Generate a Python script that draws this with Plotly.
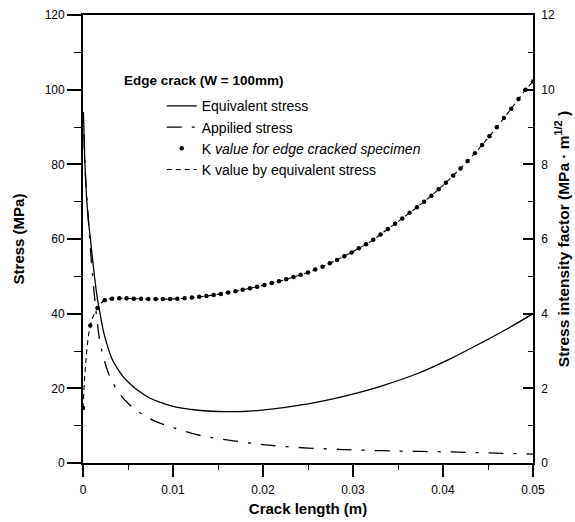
import plotly.graph_objects as go

# Equivalent stress (MPa) vs crack length (m)
a_eq = [0.00004, 0.0001, 0.0002, 0.0004, 0.0006, 0.0008, 0.001, 0.0013, 0.0016, 0.0019,
        0.0023, 0.0027, 0.0032, 0.0037, 0.0045, 0.0052, 0.006, 0.0074, 0.0085, 0.0097,
        0.011, 0.0125, 0.015, 0.0178, 0.0204, 0.023, 0.0256, 0.028, 0.0305, 0.0334,
        0.0371, 0.0408, 0.0445, 0.0474, 0.05]
s_eq = [94, 90, 81, 71, 65, 60.5, 56, 49.5, 44, 40,
        35, 31.5, 28, 25.8, 23, 21.3, 19.6, 17.4, 16.3, 15.4,
        14.7, 14.2, 13.8, 13.8, 14.3, 15.1, 16.1, 17.3, 18.8, 20.8,
        23.9, 27.9, 32.5, 36.3, 40.0]

# Applied stress (MPa)
a_app = [0.0001, 0.0003, 0.0006, 0.001, 0.0015, 0.002, 0.003, 0.004, 0.005, 0.006,
         0.007, 0.008, 0.009, 0.010, 0.012, 0.014, 0.016, 0.018, 0.020, 0.022,
         0.025, 0.028, 0.030, 0.035, 0.040, 0.045, 0.050]
s_app = [88, 76, 65, 52, 39.5, 31, 23, 18.8, 16.0, 14.0,
         12.5, 11.2, 10.3, 9.5, 8.0, 6.9, 6.2, 5.5, 4.9, 4.5,
         4.0, 3.7, 3.5, 3.2, 3.0, 2.7, 2.4]

# K value (MPa m^1/2)
a_k = [0.0, 0.00081, 0.00161, 0.00242, 0.00323, 0.00403, 0.00484, 0.00565, 0.00645, 0.00726,
       0.00806, 0.00887, 0.00968, 0.01048, 0.01129, 0.01210, 0.01290, 0.01371, 0.01452, 0.01532,
       0.01613, 0.01694, 0.01774, 0.01855, 0.01935, 0.02016, 0.02097, 0.02177, 0.02258, 0.02339,
       0.02419, 0.02500, 0.02581, 0.02661, 0.02742, 0.02823, 0.02903, 0.02984, 0.03065, 0.03145,
       0.03226, 0.03306, 0.03387, 0.03468, 0.03548, 0.03629, 0.03710, 0.03790, 0.03871, 0.03952,
       0.04032, 0.04113, 0.04194, 0.04274, 0.04355, 0.04435, 0.04516, 0.04597, 0.04677, 0.04758,
       0.04839, 0.04919, 0.05]
k_edge = [1.47, 3.68, 4.15, 4.36, 4.40, 4.41, 4.41, 4.40, 4.40, 4.39,
          4.39, 4.39, 4.39, 4.40, 4.41, 4.43, 4.45, 4.47, 4.50, 4.53,
          4.57, 4.60, 4.64, 4.68, 4.72, 4.77, 4.82, 4.87, 4.92, 4.98,
          5.04, 5.10, 5.18, 5.26, 5.35, 5.44, 5.54, 5.64, 5.75, 5.86,
          5.98, 6.12, 6.27, 6.41, 6.55, 6.70, 6.85, 7.00, 7.16, 7.33,
          7.51, 7.70, 7.89, 8.09, 8.30, 8.52, 8.75, 8.99, 9.24, 9.49,
          9.75, 10.00, 10.22]
k_equiv = k_edge

x_ticks = [0, 0.01, 0.02, 0.03, 0.04, 0.05]
x_labels = ["0", "0.01", "0.02", "0.03", "0.04", "0.05"]

FONT = "Arial, Liberation Sans, sans-serif"

fig = go.Figure()
fig.add_trace(go.Scatter(x=a_eq, y=s_eq, mode="lines", name="Equivalent stress",
                         line=dict(color="black", width=1.3, shape="spline")))
fig.add_trace(go.Scatter(x=a_app, y=s_app, mode="lines", name="Appilied stress",
                         line=dict(color="black", width=1.3, shape="spline",
                                   dash="15px,10px,3px,10px")))
fig.add_trace(go.Scatter(x=a_k, y=k_edge, mode="markers", yaxis="y2",
                         name="K <i>value for edge cracked specimen</i>",
                         marker=dict(color="black", size=4.5)))
fig.add_trace(go.Scatter(x=a_k, y=k_equiv, mode="lines", yaxis="y2",
                         name="K value by equivalent stress",
                         line=dict(color="black", width=1.1, dash="5px,4px", shape="spline")))

fig.update_layout(
    width=575, height=522,
    margin=dict(l=83, r=42, t=15, b=59),
    paper_bgcolor="white", plot_bgcolor="white",
    font=dict(family=FONT, size=12, color="black"),
    showlegend=True,
    legend=dict(x=0.175, y=0.832, xanchor="left", yanchor="top",
                bgcolor="rgba(0,0,0,0)", font=dict(size=14, family=FONT),
                tracegroupgap=0, itemwidth=30),
    xaxis=dict(range=[0, 0.05], tickvals=x_ticks, ticktext=x_labels, automargin=False,
               showgrid=False, zeroline=False, showline=True, linecolor="black",
               linewidth=1.8, mirror=True, ticks="outside", ticklen=12, tickwidth=1.5,
               tickcolor="black", ticklabelstandoff=3,
               minor=dict(tickvals=[0.005, 0.015, 0.025, 0.035, 0.045], ticks="outside",
                          ticklen=5, tickwidth=1, tickcolor="black"),
               title=dict(text="<b>Crack length (m)</b>", font=dict(size=15), standoff=7)),
    yaxis=dict(range=[0, 120], tickvals=[0, 20, 40, 60, 80, 100, 120], automargin=False,
               showgrid=False, zeroline=False, showline=True, linecolor="black",
               linewidth=1.8, ticks="outside", ticklen=14, tickwidth=1.5, tickcolor="black",
               minor=dict(tickvals=[10, 30, 50, 70, 90, 110], ticks="outside",
                          ticklen=7, tickwidth=1, tickcolor="black"),
               title=dict(text="<b>Stress (MPa)</b>", font=dict(size=15), standoff=16)),
    yaxis2=dict(range=[0, 12], tickvals=[0, 2, 4, 6, 8, 10, 12], overlaying="y", side="right",
                automargin=False,
                showgrid=False, zeroline=False, showline=True, linecolor="black",
                linewidth=1.8, ticks="inside", ticklen=10, tickwidth=1.5, tickcolor="black",
                ticklabelstandoff=4,
                minor=dict(tickvals=[1, 3, 5, 7, 9, 11], ticks="inside",
                           ticklen=5, tickwidth=1, tickcolor="black"),
                title=dict(text="<b>Stress intensity factor (MPa · m<sup>1/2</sup> )</b>",
                           font=dict(size=15.5), standoff=4)),
    annotations=[dict(text="<b>Edge crack (W = 100mm)</b>", x=0.087, y=0.853,
                      xref="paper", yref="paper", xanchor="left", yanchor="middle",
                      showarrow=False, font=dict(size=13.5, family=FONT))],
)

fig.write_html("out.html")
